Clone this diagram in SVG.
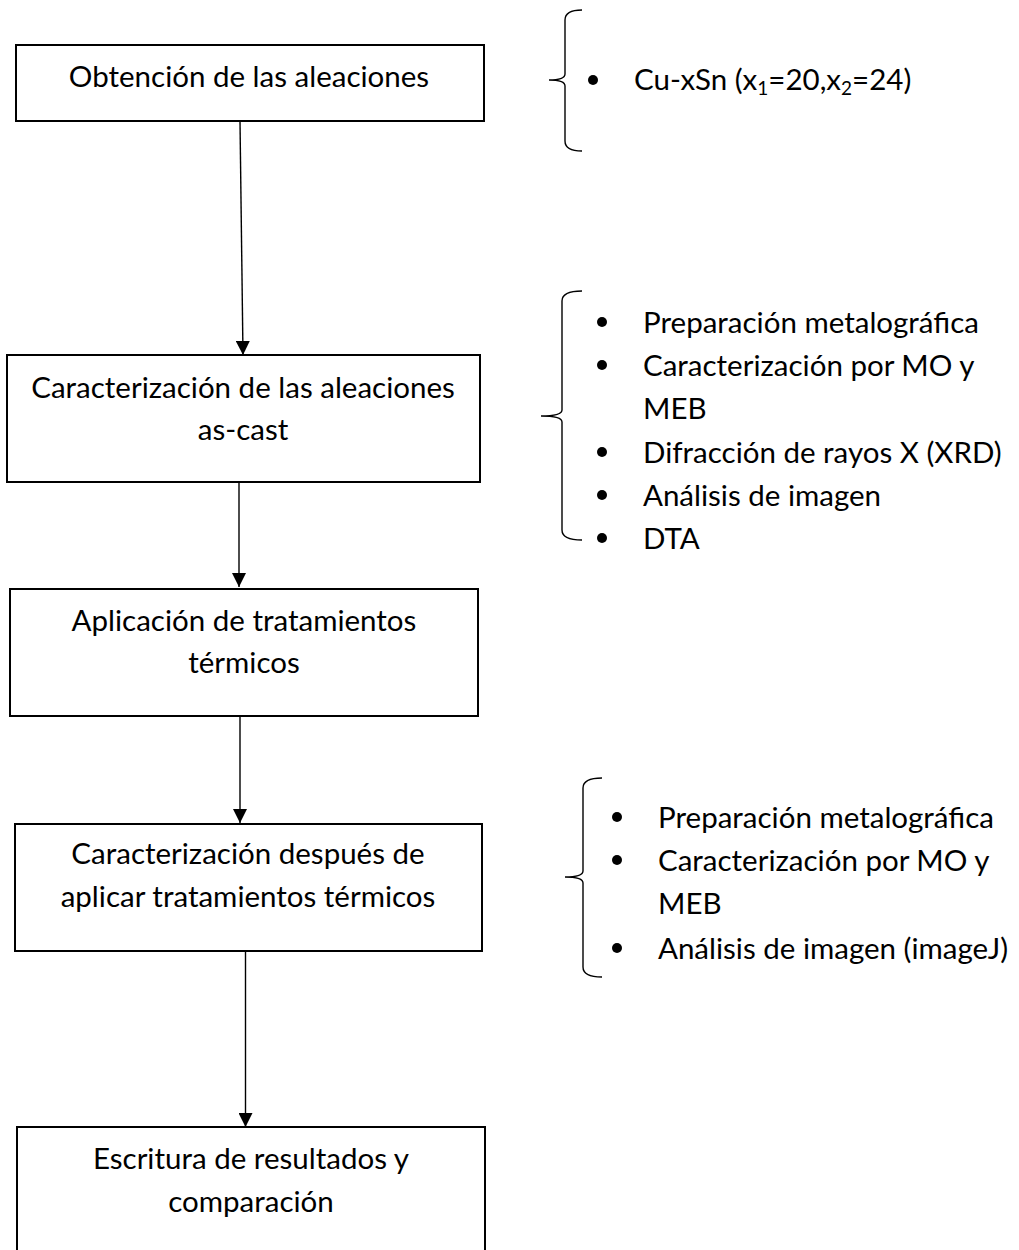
<svg xmlns="http://www.w3.org/2000/svg" width="1019" height="1250" viewBox="0 0 1019 1250">
<defs>
<marker id="arr" viewBox="0 0 14 14" refX="14" refY="7" markerWidth="14" markerHeight="14" markerUnits="userSpaceOnUse" orient="auto">
<path d="M0,0 L14,7 L0,14 Z" fill="#000"/>
</marker>
<style>
.box{fill:#fff;stroke:#000;stroke-width:2}
.t{font-family:Lato,"Liberation Sans",sans-serif;font-size:29.5px;fill:#000}
.c{text-anchor:middle}
.ln{stroke:#000;stroke-width:1.4;fill:none}
.br{stroke:#000;stroke-width:1.4;fill:none}
.sub{font-size:19px}
</style>
</defs>
<rect width="1019" height="1250" fill="#fff"/>
<g id="connectors">
<line class="ln" x1="240" y1="121" x2="243" y2="355" marker-end="url(#arr)"/>
<line class="ln" x1="239" y1="482" x2="239" y2="587" marker-end="url(#arr)"/>
<line class="ln" x1="240" y1="716" x2="240" y2="823" marker-end="url(#arr)"/>
<line class="ln" x1="245.5" y1="951" x2="245.5" y2="1127" marker-end="url(#arr)"/>
</g>
<g id="n1">
<rect class="box" x="16" y="45" width="468" height="76"/>
<text class="t c" x="249" y="87">Obtención de las aleaciones</text>
</g>
<g id="n2">
<rect class="box" x="7" y="355" width="473" height="127"/>
<text class="t c" x="243" y="398">Caracterización de las aleaciones</text>
<text class="t c" x="243" y="440">as-cast</text>
</g>
<g id="n3">
<rect class="box" x="10" y="589" width="468" height="127"/>
<text class="t c" x="244" y="631">Aplicación de tratamientos</text>
<text class="t c" x="244" y="673">térmicos</text>
</g>
<g id="n4">
<rect class="box" x="15" y="824" width="467" height="127"/>
<text class="t c" x="248" y="864">Caracterización después de</text>
<text class="t c" x="248" y="907">aplicar tratamientos térmicos</text>
</g>
<g id="n5">
<rect class="box" x="17" y="1127" width="468" height="130"/>
<text class="t c" x="251" y="1169">Escritura de resultados y</text>
<text class="t c" x="251" y="1212">comparación</text>
</g>
<g id="b1">
<path class="br" d="M582,10 Q565,10 565,20 L565,74 Q565,80 549,80 Q565,80 565,86 L565,141 Q565,151 582,151"/>
<circle cx="593" cy="80" r="5"/>
<text class="t" x="634" y="90">Cu-xSn (x<tspan class="sub" dy="5">1</tspan><tspan dy="-5">=20,x</tspan><tspan class="sub" dy="5">2</tspan><tspan dy="-5">=24)</tspan></text>
</g>
<g id="b2">
<path class="br" d="M582,291 Q562,291 562,301 L562,410 Q562,416 541,416 Q562,416 562,422 L562,530 Q562,540 582,540"/>
<circle cx="602" cy="322" r="5"/>
<circle cx="602" cy="365" r="5"/>
<circle cx="602" cy="452" r="5"/>
<circle cx="602" cy="495" r="5"/>
<circle cx="602" cy="538" r="5"/>
<text class="t" x="643" y="333">Preparación metalográfica</text>
<text class="t" x="643" y="376">Caracterización por MO y</text>
<text class="t" x="643" y="419">MEB</text>
<text class="t" x="643" y="463">Difracción de rayos X (XRD)</text>
<text class="t" x="643" y="506">Análisis de imagen</text>
<text class="t" x="643" y="549">DTA</text>
</g>
<g id="b3">
<path class="br" d="M602,778 Q583,778 583,788 L583,871 Q583,877 565,877 Q583,877 583,883 L583,967 Q583,977 602,977"/>
<circle cx="617" cy="817" r="5"/>
<circle cx="617" cy="860" r="5"/>
<circle cx="617" cy="948" r="5"/>
<text class="t" x="658" y="828">Preparación metalográfica</text>
<text class="t" x="658" y="871">Caracterización por MO y</text>
<text class="t" x="658" y="914">MEB</text>
<text class="t" x="658" y="959">Análisis de imagen (imageJ)</text>
</g>
</svg>
